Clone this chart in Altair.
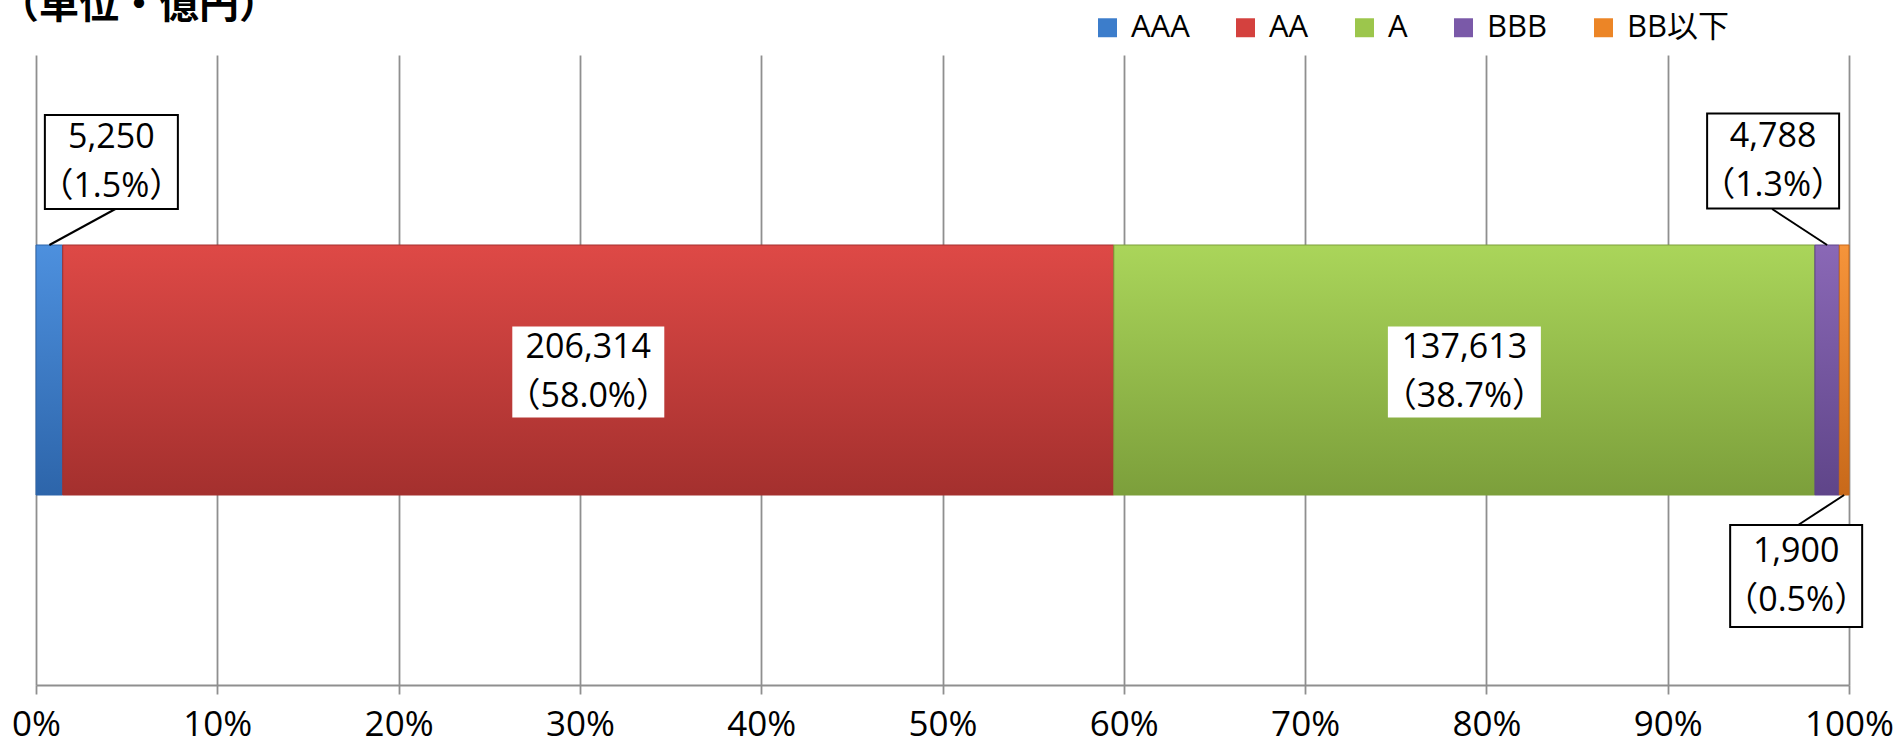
import altair as alt
import pandas as pd

# ---- data ----
ratings = ["AAA", "AA", "A", "BBB", "BB以下"]
amounts = [5250, 206314, 137613, 4788, 1900]
shares = [1.5, 58.0, 38.7, 1.3, 0.5]
title_text = "（単位・億円）"

# ---- styles ----
flat_colors = ["#3C7DCB", "#D4413E", "#9CC64C", "#7A59A8", "#EC8526"]
grad_top = ["#4D90DE", "#DE4946", "#AAD55A", "#8A68B6", "#F6943A"]
grad_bottom = ["#2D65AA", "#A4302E", "#7C9F3B", "#5F4589", "#C8691A"]
FONT = "Open Sans, Noto Sans CJK JP"
LH = 49

total = sum(amounts)
rows = []
cum = 0
for i, (r, a, s) in enumerate(zip(ratings, amounts, shares)):
    start = cum / total * 100
    cum += a
    end = cum / total * 100
    rows.append(dict(rating=r, start=start, end=end, mid=(start + end) / 2,
                     label=f"{a:,}\n（{s:.1f}%）", cat="all"))
df = pd.DataFrame(rows)

BAR = 250
yenc = alt.Y("cat:N", axis=None, scale=alt.Scale(paddingInner=0, paddingOuter=0))
xenc = alt.X("start:Q", scale=alt.Scale(domain=[0, 100], nice=False),
             axis=alt.Axis(values=list(range(0, 101, 10)), labelExpr="datum.value + '%'",
                           title=None, grid=True, gridColor="#8f8f8f", gridWidth=1.8,
                           domainColor="#8f8f8f", domainWidth=1.8, tickColor="#8f8f8f",
                           tickWidth=1.8, tickSize=9, labelFont=FONT, labelFontSize=35,
                           labelColor="#000000", labelPadding=13, labelFlush=False))

base = alt.Chart(df)
layers = [
    base.mark_bar(size=BAR).encode(
        x=xenc, x2="end:Q", y=yenc,
        color=alt.Color("rating:N", scale=alt.Scale(domain=ratings, range=flat_colors),
                        legend=alt.Legend(title=None, orient="none", direction="horizontal",
                                          legendX=1056, legendY=-43, symbolType="square",
                                          symbolSize=360, symbolStrokeWidth=0,
                                          labelFont=FONT, labelFontSize=31, labelColor="#000000",
                                          labelOffset=8, columnPadding=40))
    )
]
for r, ct, cb in zip(ratings, grad_top, grad_bottom):
    layers.append(
        alt.Chart(df[df.rating == r]).mark_bar(
            size=BAR,
            fill=alt.Gradient(gradient="linear", x1=0, x2=0, y1=0, y2=1,
                              stops=[alt.GradientStop(color=ct, offset=0),
                                     alt.GradientStop(color=cb, offset=1)]),
            stroke=cb, strokeWidth=1,
        ).encode(x="start:Q", x2="end:Q", y=yenc)
    )

# label placement: (dx, dy, box w, box h, bordered, leader from dy, leader to dx, leader to dy)
placement = {
    "AAA": (62, -208, 133, 94, True, -125, 66, -161),
    "AA": (0, 2, 152, 91, False, None, None, None),
    "A": (0, 2, 153, 91, False, None, None, None),
    "BBB": (-54, -209, 132, 95, True, -125, -55, -161),
    "BB以下": (-48, 206, 132, 102, True, 125, -46, 155),
}
for r in ratings:
    dx, dy, w, h, border, l1, ldx, l2 = placement[r]
    sub = alt.Chart(df[df.rating == r])
    if l1 is not None:
        layers.append(sub.mark_rule(color="#000000", strokeWidth=2, yOffset=l1, y2Offset=l2,
                                    x2Offset=ldx).encode(x="mid:Q", x2="mid:Q", y=yenc,
                                                         y2=alt.Y2("cat:N")))
    ratio = h / w
    path = f"M-1,{-ratio} L1,{-ratio} L1,{ratio} L-1,{ratio} Z"
    layers.append(sub.mark_point(shape=path, size=w * w, filled=True, fill="#ffffff",
                                 opacity=1, stroke="#000000" if border else "#ffffff",
                                 strokeWidth=2 if border else 0, xOffset=dx, yOffset=dy)
                  .encode(x="mid:Q", y=yenc))
    layers.append(sub.mark_text(font=FONT, fontSize=34, lineBreak="\n", lineHeight=LH,
                                color="#000000", align="center", baseline="middle",
                                xOffset=dx, yOffset=dy - LH / 2)
                  .encode(x="mid:Q", y=yenc, text="label:N"))

title_df = pd.DataFrame({"t": [title_text]})
layers.append(alt.Chart(title_df).mark_text(font="Noto Sans CJK JP", fontSize=40,
                                            fontWeight="bold", align="left",
                                            baseline="alphabetic", color="#000000")
              .encode(text="t:N", x=alt.value(-37), y=alt.value(-37)))

chart = alt.layer(*layers).properties(
    width=1813, height=630,
    padding={"left": 36, "top": 55, "right": 52, "bottom": 54},
    autosize="none",
).configure_view(strokeWidth=0)

chart.save("out.html", embed_options={"renderer": "svg", "actions": False})
